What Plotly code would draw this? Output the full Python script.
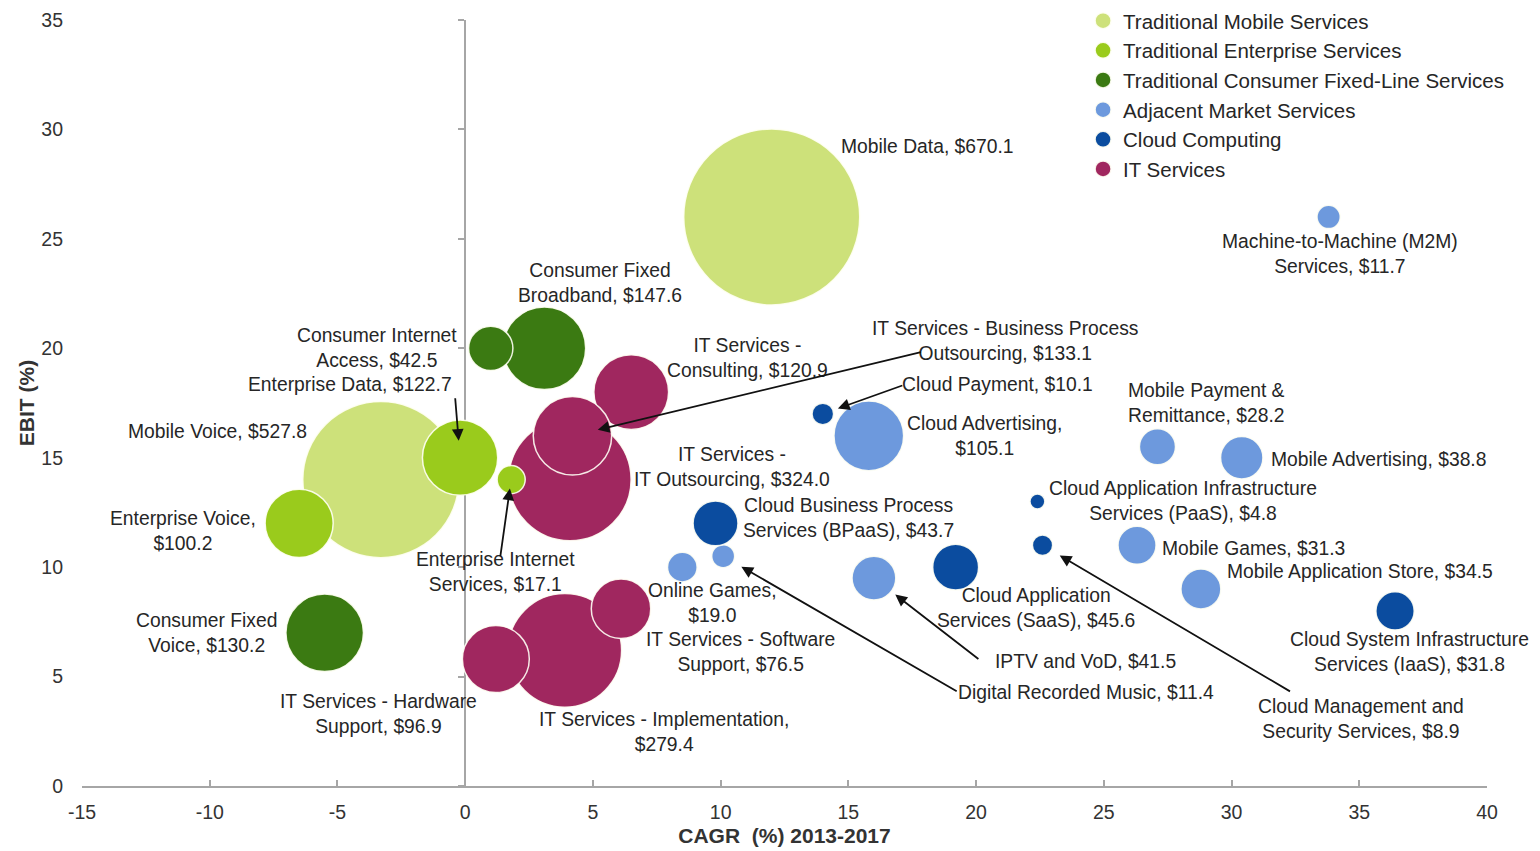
import plotly.graph_objects as go

# ---------------- data ----------------
categories = ["Traditional Mobile Services", "Traditional Enterprise Services",
              "Traditional Consumer Fixed-Line Services", "Adjacent Market Services",
              "Cloud Computing", "IT Services"]
colors = ["#cde17a", "#9acb1c", "#3b7a12", "#6d99dd", "#0b4c9f", "#a0275f"]

mobile_names = ["Mobile Data", "Mobile Voice"]
mobile_cagr = [12.0, -3.3]
mobile_ebit = [26.0, 14.0]
mobile_rev = [670.1, 527.8]

enterprise_names = ["Enterprise Data", "Enterprise Voice", "Enterprise Internet Services"]
enterprise_cagr = [-0.2, -6.5, 1.8]
enterprise_ebit = [15.0, 12.0, 14.0]
enterprise_rev = [122.7, 100.2, 17.1]

fixed_names = ["Consumer Fixed Broadband", "Consumer Internet Access", "Consumer Fixed Voice"]
fixed_cagr = [3.1, 1.0, -5.5]
fixed_ebit = [20.0, 20.0, 7.0]
fixed_rev = [147.6, 42.5, 130.2]

adjacent_names = ["Cloud Advertising", "Machine-to-Machine (M2M) Services",
                  "Mobile Payment & Remittance", "Mobile Advertising", "Mobile Games",
                  "Mobile Application Store", "Online Games", "Digital Recorded Music",
                  "IPTV and VoD"]
adjacent_cagr = [15.8, 33.8, 27.1, 30.4, 26.3, 28.8, 8.5, 10.1, 16.0]
adjacent_ebit = [16.0, 26.0, 15.5, 15.0, 11.0, 9.0, 10.0, 10.5, 9.5]
adjacent_rev = [105.1, 11.7, 28.2, 38.8, 31.3, 34.5, 19.0, 11.4, 41.5]

cloud_names = ["Cloud Payment", "Cloud Business Process Services (BPaaS)",
               "Cloud Application Services (SaaS)",
               "Cloud Application Infrastructure Services (PaaS)",
               "Cloud Management and Security Services",
               "Cloud System Infrastructure Services (IaaS)"]
cloud_cagr = [14.0, 9.8, 19.2, 22.4, 22.6, 36.4]
cloud_ebit = [17.0, 12.0, 10.0, 13.0, 11.0, 8.0]
cloud_rev = [10.1, 43.7, 45.6, 4.8, 8.9, 31.8]

it_names = ["IT Services - IT Outsourcing", "IT Services - Implementation",
            "IT Services - Consulting", "IT Services - Business Process Outsourcing",
            "IT Services - Software Support", "IT Services - Hardware Support"]
it_cagr = [4.1, 3.9, 6.5, 4.2, 6.1, 1.2]
it_ebit = [14.0, 6.2, 18.0, 16.0, 8.1, 5.8]
it_rev = [324.0, 279.4, 120.9, 133.1, 76.5, 96.9]

x_ticks = list(range(-15, 41, 5))
y_ticks = list(range(0, 36, 5))

# ---------------- label layout (wrap point, pixel offset from bubble) ----------------
# wrap: token after which the line breaks ("" = single line)
label_layout = {
    "Mobile Data": ("", 156, 70),
    "Mobile Voice": ("", -163, 48),
    "Enterprise Data": ("", -110, 73),
    "Enterprise Voice": (",", -116, -8),
    "Enterprise Internet Services": ("Internet", -16, -92),
    "Consumer Fixed Broadband": ("Fixed", 56, 65),
    "Consumer Internet Access": ("Internet", -114, 0),
    "Consumer Fixed Voice": ("Fixed", -118, 0),
    "Cloud Advertising": (",", 116, 0),
    "Machine-to-Machine (M2M) Services": ("(M2M)", 11, -37),
    "Mobile Payment & Remittance": ("&", 49, 44),
    "Mobile Advertising": ("", 137, -2),
    "Mobile Games": ("", 116, -3),
    "Mobile Application Store": ("", 159, 18),
    "Online Games": (",", 30, -36),
    "Digital Recorded Music": ("", 363, -136),
    "IPTV and VoD": ("", 212, -83),
    "Cloud Payment": ("", 175, 29),
    "Cloud Business Process Services (BPaaS)": ("Process", 133, 5),
    "Cloud Application Services (SaaS)": ("Application", 80, -41),
    "Cloud Application Infrastructure Services (PaaS)": ("Infrastructure", 146, 0),
    "Cloud Management and Security Services": ("and", 318, -174),
    "Cloud System Infrastructure Services (IaaS)": ("Infrastructure", 14, -41),
    "IT Services - IT Outsourcing": ("-", 162, 13),
    "IT Services - Implementation": (",", 99, -82),
    "IT Services - Consulting": ("-", 116, 34),
    "IT Services - Business Process Outsourcing": ("Process", 433, 95),
    "IT Services - Software Support": ("Software", 119, -43),
    "IT Services - Hardware Support": ("Hardware", -117, -55),
}
# arrows: tail offset (px from bubble centre) and standoff (px)
arrow_layout = {
    "Enterprise Data": (-5, -61, 17),
    "Enterprise Internet Services": (-11, 78, 9),
    "IT Services - Business Process Outsourcing": (350, -84, 26),
    "Cloud Payment": (81, -29, 16),
    "IPTV and VoD": (106, 82, 27),
    "Digital Recorded Music": (235, 136, 21),
    "Cloud Management and Security Services": (249, 147, 20),
}

def make_label(name, rev, wrap):
    txt = f"{name}, ${rev:.1f}"
    if wrap:
        txt = txt.replace(wrap + " ", wrap + "<br>", 1)
    return txt

groups = [
    (0, mobile_names, mobile_cagr, mobile_ebit, mobile_rev),
    (5, it_names, it_cagr, it_ebit, it_rev),
    (1, enterprise_names, enterprise_cagr, enterprise_ebit, enterprise_rev),
    (2, fixed_names, fixed_cagr, fixed_ebit, fixed_rev),
    (3, adjacent_names, adjacent_cagr, adjacent_ebit, adjacent_rev),
    (4, cloud_names, cloud_cagr, cloud_ebit, cloud_rev),
]

all_rev = mobile_rev + enterprise_rev + fixed_rev + adjacent_rev + cloud_rev + it_rev
sizeref = 2.0 * max(all_rev) / (176 ** 2)

FONT = "Liberation Sans, Arial, sans-serif"

fig = go.Figure()
annotations = []
for ci, names, xs, ys, revs in groups:
    fig.add_trace(go.Scatter(
        x=xs, y=ys, mode="markers", name=categories[ci], legendrank=ci + 1,
        text=names,
        marker=dict(size=revs, sizemode="area", sizeref=sizeref, sizemin=2,
                    color=colors[ci], opacity=1,
                    line=dict(color="rgba(255,255,245,0.9)", width=1.5)),
        hovertemplate="%{text}<br>CAGR %{x}%<br>EBIT %{y}%<extra></extra>",
    ))
    for n, x, y, r in zip(names, xs, ys, revs):
        wrap, dx, dy = label_layout[n]
        annotations.append(dict(
            x=x, y=y, xref="x", yref="y", text=make_label(n, r, wrap),
            showarrow=False, xshift=dx, yshift=dy, align="center",
            font=dict(family=FONT, size=19.3, color="#262626")))
        if n in arrow_layout:
            ax, ay, so = arrow_layout[n]
            annotations.append(dict(
                x=x, y=y, xref="x", yref="y", text="", showarrow=True,
                ax=ax, ay=ay, axref="pixel", ayref="pixel", standoff=so,
                arrowhead=2, arrowsize=1.3, arrowwidth=1.8, arrowcolor="#111111"))

# dummy trace carrying the y-axis line drawn at CAGR = 0
fig.add_trace(go.Scatter(x=[None], y=[None], yaxis="y2", showlegend=False,
                         hoverinfo="skip", mode="markers"))

fig.update_layout(
    width=1540, height=851,
    margin=dict(l=82, r=53, t=20, b=65, autoexpand=False),
    paper_bgcolor="white", plot_bgcolor="white",
    font=dict(family=FONT, color="#333333"),
    showlegend=True,
    legend=dict(x=0.7125, y=0.999, xanchor="left", yanchor="top", yref="container",
                font=dict(family=FONT, size=20.5, color="#262626"),
                itemsizing="trace", bgcolor="rgba(0,0,0,0)",
                tracegroupgap=0),
    xaxis=dict(range=[-15, 40], tickvals=x_ticks, ticktext=[str(v) for v in x_ticks],
               showgrid=False, zeroline=False, automargin=False,
               showline=True, linecolor="#a6a6a6", linewidth=2,
               ticks="inside", ticklen=6, tickcolor="#a6a6a6", tickwidth=1.5,
               tickfont=dict(size=19.5, color="#333333"), ticklabelstandoff=8,
               title=dict(text="<b>CAGR\u00a0 (%) 2013-2017</b>",
                          font=dict(size=21, color="#333333"), standoff=6)),
    yaxis=dict(range=[0, 35], tickvals=y_ticks, ticktext=[str(v) for v in y_ticks],
               showgrid=False, zeroline=False, automargin=False,
               showline=False, ticks="", tickfont=dict(size=19.5, color="#333333"),
               ticklabelstandoff=18,
               title=dict(text="<b>EBIT (%)</b>", font=dict(size=21, color="#333333"),
                          standoff=0)),
    yaxis2=dict(range=[0, 35], tickvals=y_ticks, overlaying="y", anchor="free",
                position=15 / 55, side="left", showline=True, linecolor="#a6a6a6",
                linewidth=2, ticks="outside", ticklen=6, tickcolor="#a6a6a6",
                tickwidth=1.5, showticklabels=False, showgrid=False, zeroline=False,
                automargin=False, layer="below traces"),
    annotations=annotations,
)

fig.write_html("out.html")
